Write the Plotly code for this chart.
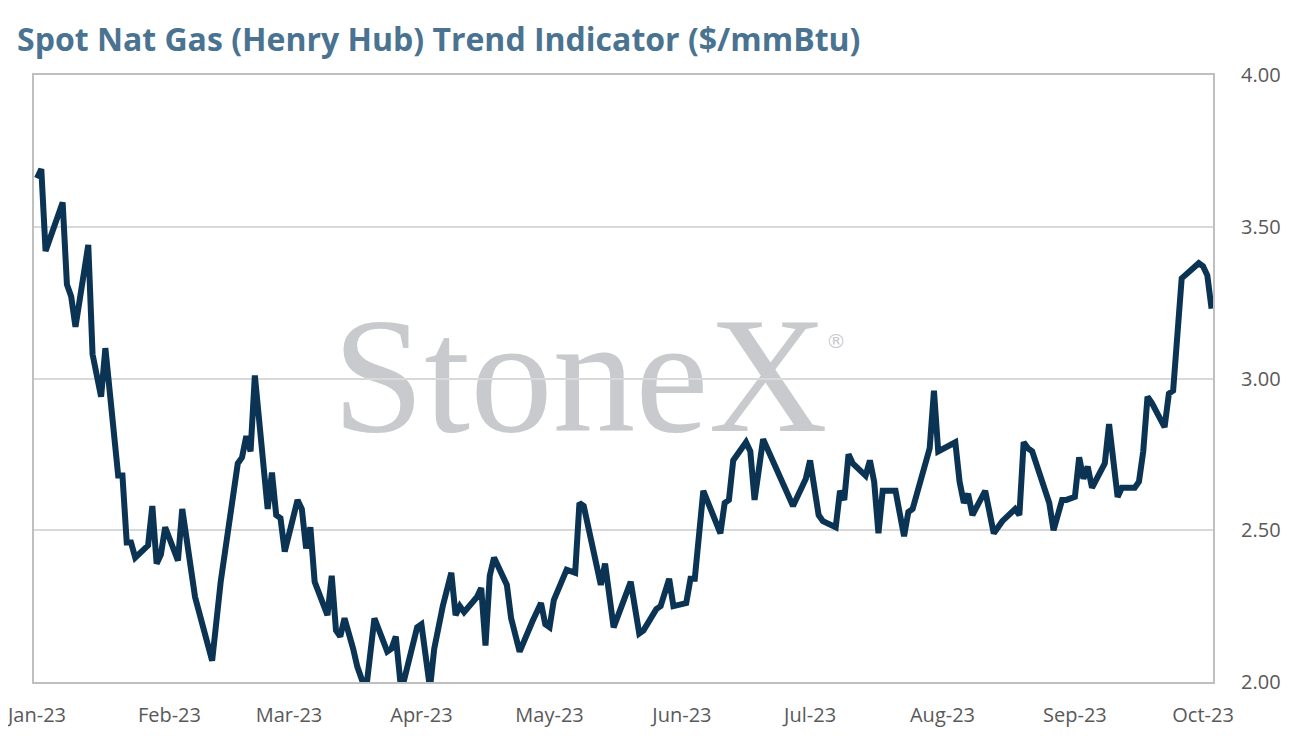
import plotly.graph_objects as go

dates = [
    "2023-01-01", "2023-01-02", "2023-01-03", "2023-01-07", "2023-01-08", "2023-01-09", "2023-01-10",
    "2023-01-13", "2023-01-14", "2023-01-16", "2023-01-17", "2023-01-20", "2023-01-21", "2023-01-22",
    "2023-01-23", "2023-01-24", "2023-01-27", "2023-01-28", "2023-01-29", "2023-01-30", "2023-01-31",
    "2023-02-03", "2023-02-04", "2023-02-07", "2023-02-11", "2023-02-13", "2023-02-17", "2023-02-18",
    "2023-02-19", "2023-02-20", "2023-02-21", "2023-02-24", "2023-02-25", "2023-02-26", "2023-02-27",
    "2023-02-28", "2023-03-03", "2023-03-04", "2023-03-05", "2023-03-06", "2023-03-07", "2023-03-10",
    "2023-03-11", "2023-03-12", "2023-03-13", "2023-03-14", "2023-03-16", "2023-03-17", "2023-03-19",
    "2023-03-21", "2023-03-24", "2023-03-25", "2023-03-26", "2023-03-27", "2023-03-28", "2023-03-31",
    "2023-04-01", "2023-04-03", "2023-04-04", "2023-04-06", "2023-04-08", "2023-04-09", "2023-04-10",
    "2023-04-11", "2023-04-14", "2023-04-15", "2023-04-16", "2023-04-17", "2023-04-18", "2023-04-21",
    "2023-04-22", "2023-04-24", "2023-04-27", "2023-04-29", "2023-04-30", "2023-05-01", "2023-05-02",
    "2023-05-05", "2023-05-07", "2023-05-08", "2023-05-09", "2023-05-13", "2023-05-14", "2023-05-16",
    "2023-05-20", "2023-05-22", "2023-05-23", "2023-05-26", "2023-05-27", "2023-05-29", "2023-05-30",
    "2023-06-01", "2023-06-02", "2023-06-03", "2023-06-04", "2023-06-06", "2023-06-10", "2023-06-11",
    "2023-06-12", "2023-06-13", "2023-06-16", "2023-06-17", "2023-06-18", "2023-06-20", "2023-06-23",
    "2023-06-25", "2023-06-27", "2023-06-30", "2023-07-01", "2023-07-03", "2023-07-04", "2023-07-07",
    "2023-07-08", "2023-07-09", "2023-07-10", "2023-07-11", "2023-07-14", "2023-07-15", "2023-07-16",
    "2023-07-17", "2023-07-18", "2023-07-21", "2023-07-23", "2023-07-24", "2023-07-25", "2023-07-29",
    "2023-07-30", "2023-07-31", "2023-08-04", "2023-08-05", "2023-08-06", "2023-08-07", "2023-08-08",
    "2023-08-11", "2023-08-13", "2023-08-15", "2023-08-18", "2023-08-19", "2023-08-20", "2023-08-21",
    "2023-08-22", "2023-08-26", "2023-08-27", "2023-08-29", "2023-08-30", "2023-09-01", "2023-09-02",
    "2023-09-03", "2023-09-04", "2023-09-05", "2023-09-08", "2023-09-09", "2023-09-11", "2023-09-12",
    "2023-09-15", "2023-09-16", "2023-09-17", "2023-09-18", "2023-09-19", "2023-09-22", "2023-09-23",
    "2023-09-24", "2023-09-26", "2023-09-30", "2023-10-01", "2023-10-02", "2023-10-03",
]

prices = [
    3.66, 3.69, 3.42, 3.58, 3.31, 3.27, 3.17,
    3.44, 3.08, 2.94, 3.10, 2.68, 2.68, 2.46,
    2.46, 2.41, 2.45, 2.58, 2.39, 2.42, 2.51,
    2.40, 2.57, 2.28, 2.07, 2.33, 2.72, 2.74,
    2.81, 2.76, 3.01, 2.57, 2.69, 2.55, 2.54,
    2.43, 2.60, 2.57, 2.44, 2.51, 2.33, 2.22,
    2.35, 2.17, 2.15, 2.21, 2.11, 2.05, 1.97,
    2.21, 2.10, 2.11, 2.15, 2.01, 2.01, 2.18,
    2.19, 1.98, 2.11, 2.25, 2.36, 2.22, 2.25,
    2.23, 2.28, 2.31, 2.12, 2.35, 2.41, 2.32,
    2.21, 2.10, 2.20, 2.26, 2.19, 2.18, 2.27,
    2.37, 2.36, 2.59, 2.58, 2.32, 2.39, 2.18,
    2.33, 2.16, 2.17, 2.24, 2.25, 2.34, 2.25,
    2.26, 2.26, 2.34, 2.34, 2.63, 2.49, 2.59,
    2.60, 2.73, 2.79, 2.76, 2.60, 2.80, 2.71,
    2.65, 2.58, 2.67, 2.73, 2.55, 2.53, 2.51,
    2.63, 2.60, 2.75, 2.72, 2.68, 2.73, 2.66,
    2.49, 2.63, 2.63, 2.48, 2.56, 2.57, 2.77,
    2.96, 2.76, 2.79, 2.66, 2.59, 2.62, 2.55,
    2.63, 2.49, 2.53, 2.57, 2.55, 2.79, 2.77,
    2.76, 2.59, 2.50, 2.60, 2.60, 2.61, 2.74,
    2.67, 2.71, 2.64, 2.72, 2.85, 2.61, 2.64,
    2.64, 2.66, 2.76, 2.94, 2.92, 2.84, 2.95,
    2.96, 3.33, 3.38, 3.37, 3.34, 3.23,
]

month_ticks = ["2023-01-01", "2023-02-01", "2023-03-01", "2023-04-01", "2023-05-01",
               "2023-06-01", "2023-07-01", "2023-08-01", "2023-09-01", "2023-10-01"]
month_labels = ["Jan-23", "Feb-23", "Mar-23", "Apr-23", "May-23",
                "Jun-23", "Jul-23", "Aug-23", "Sep-23", "Oct-23"]
y_ticks = [2.0, 2.5, 3.0, 3.5, 4.0]
y_labels = ["2.00", "2.50", "3.00", "3.50", "4.00"]

title_text = "Spot Nat Gas (Henry Hub) Trend Indicator ($/mmBtu)"

W, H = 1274, 725

fig = go.Figure()
fig.add_trace(go.Scatter(
    x=dates, y=prices, mode="lines",
    line=dict(color="#0b3354", width=6),
    showlegend=False, hoverinfo="x+y",
))

fig.update_layout(
    width=W, height=H,
    margin=dict(l=26, r=69, t=67, b=51, autoexpand=False),
    paper_bgcolor="white", plot_bgcolor="rgba(0,0,0,0)",
    title=dict(
        text="<b>" + title_text + "</b>",
        font=dict(family="Open Sans", size=32, color="#4a7391"),
        xref="container", yref="container",
        x=9 / W, xanchor="left", y=1 - 32 / H, yanchor="middle",
    ),
    xaxis=dict(
        type="date", automargin=False,
        range=["2022-12-31 07:00", "2023-10-03 08:00"],
        tickvals=month_ticks, ticktext=month_labels,
        showgrid=False, zeroline=False,
        showline=True, linecolor="#bfbfbf", linewidth=2, mirror=True,
        ticks="", ticklabelstandoff=14, ticklabeloverflow="allow",
        tickfont=dict(family="Open Sans", size=20, color="#595959"),
    ),
    yaxis=dict(
        range=[2.0, 4.0], side="right", automargin=False,
        tickvals=y_ticks, ticktext=y_labels,
        showgrid=True, gridcolor="#d9d9d9", gridwidth=2,
        zeroline=False,
        showline=True, linecolor="#bfbfbf", linewidth=2, mirror=True,
        ticks="", ticklabelstandoff=22, ticklabeloverflow="allow",
        tickfont=dict(family="Open Sans", size=20, color="#595959"),
    ),
)

fig.add_shape(
    type="rect", xref="paper", yref="paper",
    x0=0.2632, x1=0.6632, y0=0.3946, y1=0.6746,
    line=dict(width=0), fillcolor="rgba(0,0,0,0)", layer="below",
    label=dict(text="StoneX", textposition="middle center",
               font=dict(family="Liberation Serif", size=165, color="#c9cacd")),
)
fig.add_annotation(
    xref="paper", yref="paper", x=(848 - 34) / 1179, y=(682 - 341) / 607,
    text="®", showarrow=False,
    font=dict(family="DejaVu Sans", size=20, color="#c9cacd"),
)

fig.write_html("out.html")
